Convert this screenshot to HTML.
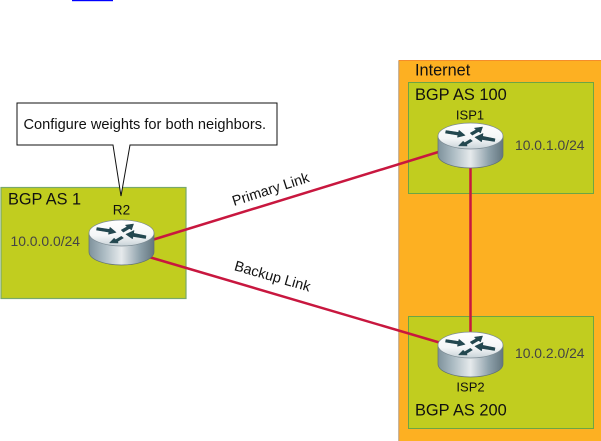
<!DOCTYPE html>
<html>
<head>
<meta charset="utf-8">
<style>
html,body{margin:0;padding:0;background:#fff;width:601px;height:441px;overflow:hidden}
svg{display:block}
text{font-family:"Liberation Sans",sans-serif}
</style>
</head>
<body>
<svg width="601" height="441" viewBox="0 0 601 441" xmlns="http://www.w3.org/2000/svg">
<defs>
<linearGradient id="side" x1="0" x2="1" y1="0" y2="0">
<stop offset="0" stop-color="#7f929c"/>
<stop offset="0.22" stop-color="#a9b9c1"/>
<stop offset="0.5" stop-color="#e6eaec"/>
<stop offset="0.78" stop-color="#8fa2ac"/>
<stop offset="1" stop-color="#64767f"/>
</linearGradient>
<linearGradient id="top" x1="0" x2="0" y1="0" y2="1">
<stop offset="0" stop-color="#ffffff"/>
<stop offset="0.6" stop-color="#f4f6f7"/>
<stop offset="1" stop-color="#c9d3d8"/>
</linearGradient>
<g id="router">
<path d="M-32.5 0 V19 A32.5 13 0 0 0 32.5 19 V0 Z" fill="url(#side)" stroke="#5f6f77" stroke-width="0.7"/>
<ellipse cx="0" cy="0" rx="32.5" ry="13" fill="url(#top)" stroke="#7d8c94" stroke-width="0.7"/>
<g fill="#23474f" stroke="#23474f" stroke-width="0.6" stroke-linejoin="round">
<path d="M-24.500 -5.500 L-12 -3.600 L-11.500 -5.600 L-5.500 -0.700 L-13 1.200 L-12.600 -0.900 L-25 -2.900 Z"/>
<path d="M24 5.500 L11.500 3.400 L11 5.700 L4.500 1.300 L12.500 -2.500 L12.100 0.300 L24.500 2.800 Z"/>
<path d="M-0.200 -3 L5.600 -6.300 L4 -7.800 L12 -9 L10 -3.200 L8 -4.500 L1.800 -0.900 Z"/>
<path d="M-0.200 3.400 L-5.800 6.800 L-7.400 5.300 L-11.800 9.800 L-3.500 10 L-3.800 8.400 L1.800 5 Z"/>
</g>
</g>
</defs>

<rect x="72" y="0" width="41" height="1.200" fill="#0000ff"/>

<rect x="399" y="60.500" width="203" height="381" fill="#fdb022" stroke="#f58d2a" stroke-width="1"/>
<rect x="398" y="61" width="1.200" height="380" fill="#c9b79c"/>
<rect x="408.500" y="82.500" width="185" height="111" fill="#c1cd1f" stroke="#6da544" stroke-width="1"/>
<rect x="408.500" y="316.500" width="185" height="112" fill="#c1cd1f" stroke="#6da544" stroke-width="1"/>
<rect x="1" y="187.500" width="185" height="111" fill="#c1cd1f" stroke="#78a86a" stroke-width="1.200"/>

<g stroke="#c8173f" stroke-width="2.500" fill="none">
<line x1="152" y1="240" x2="440" y2="151.500"/>
<line x1="149" y1="257" x2="441" y2="343"/>
<line x1="470.500" y1="165" x2="470.500" y2="335"/>
</g>

<path d="M17 103 H277 V145 H130 L121 196 L113 145 H17 Z" fill="#fff" stroke="#111" stroke-width="1"/>
<text x="23.500" y="129" font-size="14.600" fill="#111">Configure weights for both neighbors.</text>

<use href="#router" x="121.500" y="233"/>
<use href="#router" x="470.500" y="136"/>
<use href="#router" x="470.500" y="345"/>

<g fill="#111">
<text x="8" y="204.500" font-size="16.300">BGP AS 1</text>
<text x="121.500" y="214.700" font-size="13.600" text-anchor="middle">R2</text>
<text x="415" y="75.500" font-size="16.300">Internet</text>
<text x="415" y="100" font-size="16.400">BGP AS 100</text>
<text x="470" y="119.500" font-size="13" text-anchor="middle">ISP1</text>
<text x="470.500" y="391.700" font-size="13" text-anchor="middle">ISP2</text>
<text x="415" y="415.700" font-size="16.400">BGP AS 200</text>
<text transform="translate(234,206) rotate(-17.800)" font-size="14.400">Primary Link</text>
<text transform="translate(233.500,270) rotate(16)" font-size="14.400">Backup Link</text>
</g>
<g fill="#444" font-size="13.900">
<text x="10.500" y="246">10.0.0.0/24</text>
<text x="515" y="150">10.0.1.0/24</text>
<text x="515" y="358">10.0.2.0/24</text>
</g>
</svg>
</body>
</html>
